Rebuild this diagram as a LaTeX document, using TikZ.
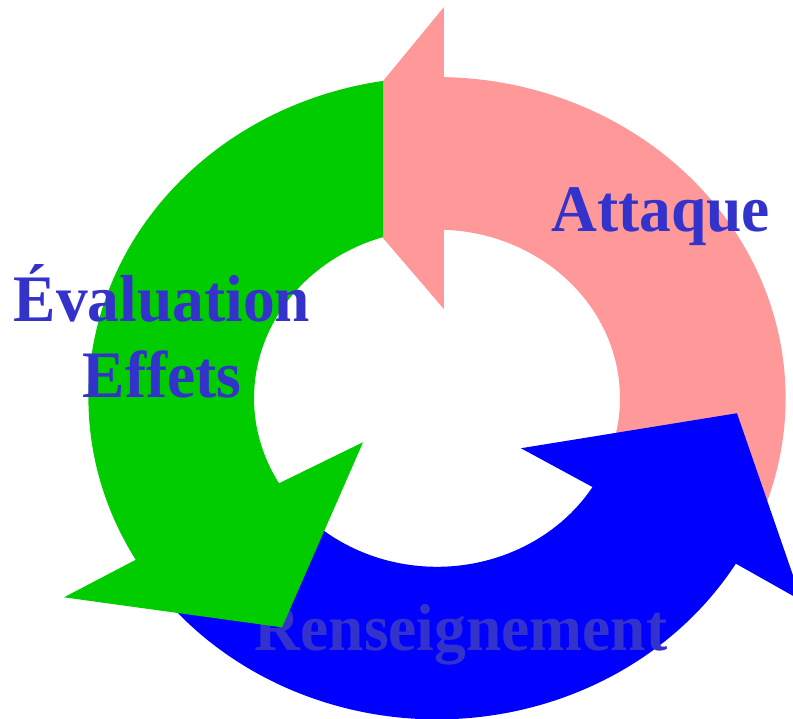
\documentclass[tikz,border=0pt]{standalone}
\usepackage{fontspec}
\setmainfont{Liberation Serif}
\usepackage{graphicx}
\usepackage{pgf,tikz}
\definecolor{ff9999}{rgb}{1,0.6,0.6}
\definecolor{qqqqff}{rgb}{0,0,1}
\definecolor{qqccqq}{rgb}{0,0.8,0}
\definecolor{ttttcc}{rgb}{0.2,0.2,0.8}
\begin{document}
\begin{tikzpicture}[line cap=round,line join=round,x=0.02172cm,y=0.02cm,
  lbl/.style={color=ttttcc,inner sep=0pt,anchor=base,font=\fontsize{37.8}{40}\selectfont\bfseries}]
\useasboundingbox (-402.4,-320) rectangle (327.8,398);
\clip(-402.4,-320) rectangle (327.8,398);
\fill[color=ff9999,fill=ff9999] (-25:168.5) -- (-25:321) arc[start angle=-25, end angle=88.86, radius=321] -- (6.4,391) -- (-110.4,237) -- (6.4,89) -- (87.82:168.5) arc[start angle=87.82, end angle=-25, radius=168.5] -- cycle;
\fill[color=qqqqff,fill=qqqqff] (215:321) arc[start angle=215, end angle=329, radius=321] -- (335.9,-202.5) -- (276.2,-15) -- (77.3,-50) -- (328.2:168.5) arc[start angle=328.2, end angle=215, radius=168.5] -- cycle;
\draw[color=ttttcc] (22.1,-252) node[lbl] (renseignement) {\scalebox{0.955}[1]{Renseignement}};
\fill[color=qqccqq,fill=qqccqq] (98.9:321) arc[start angle=98.9, end angle=210.2, radius=321] -- (-343.5,-199) -- (-142.7,-229) -- (-68.1,-44) -- (210.3:168.5) arc[start angle=210.3, end angle=107.15, radius=168.5] -- cycle;
\draw[color=ttttcc] (205.8,166.5) node[lbl] (attaque) {\scalebox{0.955}[1]{Attaque}};
\draw[color=ttttcc] (-253.2,77) node[lbl] (evaluation) {\scalebox{0.955}[1]{Évaluation}};
\draw[color=ttttcc] (-253.2,1) node[lbl] (effets) {\scalebox{0.955}[1]{Effets}};
\end{tikzpicture}
\end{document}
